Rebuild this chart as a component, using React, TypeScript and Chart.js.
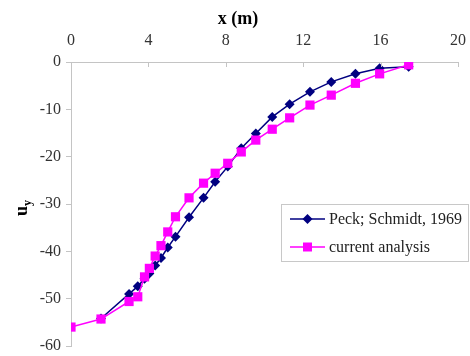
import React, { useEffect, useRef } from "react";
import { Chart, registerables } from "chart.js";

Chart.register(...registerables);

const xValues = [0, 1.55, 3.0, 3.45, 3.8, 4.05, 4.35, 4.65, 5.0, 5.4, 6.1, 6.85, 7.45, 8.1, 8.8, 9.55, 10.4, 11.3, 12.35, 13.45, 14.7, 15.95, 17.45];
const peckY = [null, -54.2, -49.0, -47.4, -45.8, -44.7, -43.0, -41.4, -39.2, -36.9, -32.8, -28.7, -25.3, -22.1, -18.2, -15.1, -11.6, -8.9, -6.3, -4.2, -2.5, -1.3, -1.0];
const currentY = [-56.0, -54.3, -50.6, -49.6, -45.4, -43.6, -41.0, -38.8, -35.9, -32.7, -28.7, -25.6, -23.5, -21.4, -19.0, -16.5, -14.2, -11.8, -9.1, -7.0, -4.5, -2.5, -0.6];
const seriesNames = ["Peck; Schmidt, 1969", "current analysis"];
const xTitle = "x (m)";
const yTitleMain = "u";
const yTitleSub = "y";

const NAVY = "#000080";
const PINK = "#ff00ff";
const AXIS = "#c4c4c4";
const SERIF = "'Liberation Serif', 'DejaVu Serif', serif";

const toPoints = (ys: (number | null)[]) =>
  xValues
    .map((x, i) => ({ x, y: ys[i] }))
    .filter((p) => p.y !== null) as { x: number; y: number }[];

const overlay = {
  id: "overlay",
  afterDraw(chart: any) {
    const ctx = chart.ctx;
    const xs = chart.scales.x;
    const ca = chart.chartArea;
    ctx.save();
    // inward x ticks
    ctx.strokeStyle = AXIS;
    ctx.lineWidth = 1;
    xs.ticks.forEach((t: any) => {
      const px = Math.round(xs.getPixelForValue(t.value)) + 0.5;
      ctx.beginPath();
      ctx.moveTo(px, ca.top);
      ctx.lineTo(px, ca.top + 5);
      ctx.stroke();
    });
    // titles
    ctx.fillStyle = "#000";
    ctx.font = `bold 18px ${SERIF}`;
    ctx.textAlign = "center";
    ctx.textBaseline = "alphabetic";
    ctx.fillText(xTitle, 238, 24);
    ctx.save();
    ctx.translate(27, 208);
    ctx.rotate(-Math.PI / 2);
    ctx.textAlign = "left";
    ctx.font = `bold 18px ${SERIF}`;
    const wu = ctx.measureText(yTitleMain).width;
    ctx.font = `bold 12px ${SERIF}`;
    const wy = ctx.measureText(yTitleSub).width;
    const start = -(wu + wy) / 2;
    ctx.font = `bold 18px ${SERIF}`;
    ctx.fillText(yTitleMain, start, 0);
    ctx.font = `bold 12px ${SERIF}`;
    ctx.fillText(yTitleSub, start + wu, 4);
    ctx.restore();
    // legend
    ctx.strokeStyle = "#c8c8c8";
    ctx.lineWidth = 1;
    ctx.strokeRect(281.5, 204.5, 187, 57);
    const rows = [
      { y: 219, color: NAVY, shape: "diamond", label: seriesNames[0] },
      { y: 247, color: PINK, shape: "square", label: seriesNames[1] },
    ];
    rows.forEach((r) => {
      ctx.strokeStyle = r.color;
      ctx.lineWidth = 1.5;
      ctx.beginPath();
      ctx.moveTo(290, r.y);
      ctx.lineTo(325, r.y);
      ctx.stroke();
      ctx.fillStyle = r.color;
      ctx.beginPath();
      if (r.shape === "diamond") {
        ctx.moveTo(307.5 - 5, r.y);
        ctx.lineTo(307.5, r.y - 5);
        ctx.lineTo(307.5 + 5, r.y);
        ctx.lineTo(307.5, r.y + 5);
        ctx.closePath();
      } else {
        ctx.rect(307.5 - 4.5, r.y - 4.5, 9, 9);
      }
      ctx.fill();
      ctx.fillStyle = "#222";
      ctx.font = `16px ${SERIF}`;
      ctx.textAlign = "left";
      ctx.textBaseline = "middle";
      ctx.fillText(r.label, 329, r.y + 1);
    });
    ctx.restore();
  },
};

export default function App() {
  const ref = useRef<HTMLCanvasElement | null>(null);
  useEffect(() => {
    document.body.style.margin = "0";
    if (!ref.current) return;
    const chart = new Chart(ref.current, {
      type: "scatter",
      data: {
        datasets: [
          {
            label: seriesNames[1],
            data: toPoints(currentY),
            showLine: true,
            borderColor: PINK,
            backgroundColor: PINK,
            borderWidth: 1.5,
            pointStyle: "rect",
            pointRadius: 6.5,
            pointBorderWidth: 0,
            pointHoverRadius: 6.5,
            tension: 0,
            order: 0,
          },
          {
            label: seriesNames[0],
            data: toPoints(peckY),
            showLine: true,
            borderColor: NAVY,
            backgroundColor: NAVY,
            borderWidth: 1.5,
            pointStyle: "rectRot",
            pointRadius: 5,
            pointBorderWidth: 0,
            pointHoverRadius: 5,
            tension: 0,
            order: 1,
          },
        ],
      },
      options: {
        responsive: false,
        animation: false,
        layout: { padding: { left: 0, top: 0, right: 4, bottom: 10 } },
        plugins: { legend: { display: false }, tooltip: { enabled: false } },
        scales: {
          x: {
            type: "linear",
            position: "top",
            min: 0,
            max: 20,
            ticks: {
              stepSize: 4,
              color: "#333",
              font: { family: SERIF, size: 16 },
              padding: 4,
            },
            grid: { display: false },
            border: { display: true, color: AXIS, width: 1 },
            afterFit: (s: any) => {
              s.height = 62;
            },
          },
          y: {
            type: "linear",
            min: -60,
            max: 0,
            ticks: {
              stepSize: 10,
              color: "#333",
              font: { family: SERIF, size: 16, lineHeight: 0.6 },
              padding: 5,
            },
            grid: {
              display: true,
              drawOnChartArea: false,
              drawTicks: true,
              tickLength: 5,
              color: AXIS,
            },
            border: { display: true, color: AXIS, width: 1 },
            afterFit: (s: any) => {
              s.width = 71;
            },
          },
        },
      },
      plugins: [overlay],
    });
    return () => chart.destroy();
  }, []);
  return <canvas ref={ref} width={470} height={356} style={{ display: "block", width: 470, height: 356 }} />;
}
